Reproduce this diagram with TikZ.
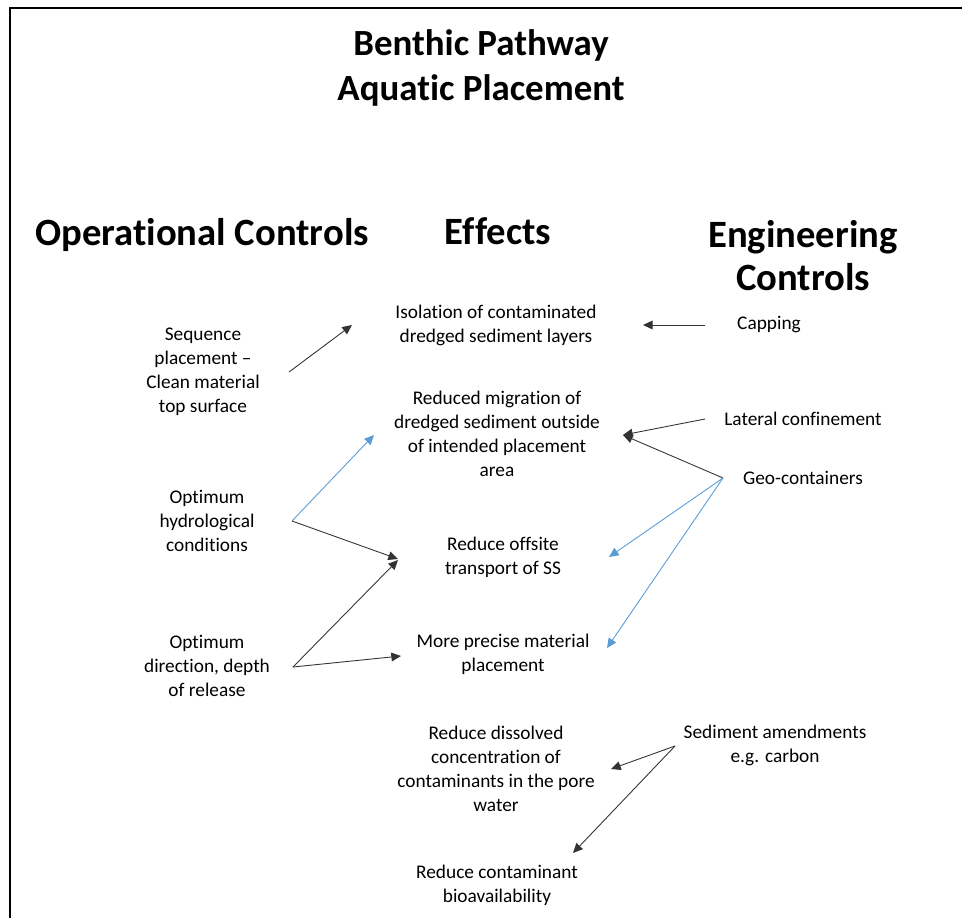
\documentclass[tikz,border=0pt]{standalone}
\usepackage{fontspec}
\setmainfont{Carlito}[Ligatures=NoCommon]
\usepackage{tikz}
\usetikzlibrary{arrows.meta, calc}
\definecolor{linkblue}{RGB}{91,155,213}

\begin{document}
\begin{tikzpicture}[x=0.02cm, y=-0.02cm,
    txt/.style={align=center, inner sep=1pt, font=\fontsize{11}{13.7}\selectfont},
    title/.style={align=center, inner sep=1pt, font=\fontsize{21}{25.5}\selectfont\bfseries},
    head/.style={align=center, inner sep=1pt, font=\fontsize{22}{24.5}\selectfont\bfseries},
    arr/.style={draw=black!80, line width=0.5pt, -{Triangle[length=5.5pt, width=5pt]}},
    blarr/.style={arr, draw=linkblue, -{Triangle[length=5.5pt, width=5pt, fill=linkblue]}}]
    \useasboundingbox (0,0) rectangle (962,918);
    \draw[line width=1.3pt] (10,918) -- (10,8) -- (962,8);

    \node[title] (ttl) at (481,68) {Benthic Pathway\\Aquatic Placement};
    \node[head] (opc) at (202,235) {Operational Controls};
    \node[head] (eff) at (498,231) {Effects};
    \node[head] (enc) at (803,256) {Engineering\\Controls};

    \node[txt] (seq) at (203,372) {Sequence\\placement –\\Clean material\\top surface};
    \node[txt] (hyd) at (207,521) {Optimum\\hydrological\\conditions};
    \node[txt] (dir) at (207,666) {Optimum\\direction, depth\\of release};

    \node[txt] (iso) at (496,325) {Isolation of contaminated\\dredged sediment layers};
    \node[txt] (mig) at (497,434) {Reduced migration of\\dredged sediment outside\\of intended placement\\area};
    \node[txt] (off) at (503,557) {Reduce offsite\\transport of SS};
    \node[txt] (pre) at (503,654) {More precise material\\placement};
    \node[txt] (dis) at (496,769) {Reduce dissolved\\concentration of\\contaminants in the pore\\water};
    \node[txt] (bio) at (497,885) {Reduce contaminant\\bioavailability};

    \node[txt] (cap) at (769,325) {Capping};
    \node[txt] (lat) at (803,419) {Lateral confinement};
    \node[txt] (geo) at (803,478) {Geo-containers};
    \node[txt] (sed) at (775,745) {Sediment amendments\\e.g. carbon};

    \draw[arr] ($(seq)+(86,0)$) -- ($(iso)+(-144,0)$);
    \draw[arr] ($(cap)+(-64,0)$) -- ($(iso)+(147,0)$);
    \draw[arr] ($(lat)+(-98,0)$) -- ($(mig)+(126,1)$);
    \draw[arr] ($(geo)+(-80,0)$) -- ($(mig)+(126,1)$);
    \draw[blarr] ($(geo)+(-80,0)$) -- ($(off)+(106,0)$);
    \draw[blarr] ($(geo)+(-80,0)$) -- ($(pre)+(104,-6)$);

    \draw[blarr] ($(hyd)+(85,0)$) -- ($(mig)+(-123,1)$);
    \draw[arr] ($(hyd)+(85,0)$) -- ($(off)+(-105,2)$);
    \draw[arr] ($(dir)+(86,1)$) -- ($(off)+(-105,3)$);
    \draw[arr] ($(dir)+(86,1)$) -- ($(pre)+(-102,2)$);

    \draw[arr] ($(sed)+(-100,1)$) -- ($(dis)+(115,0)$);
    \draw[arr] ($(sed)+(-100,1)$) -- ($(bio)+(76,-32)$);
\end{tikzpicture}
\end{document}
